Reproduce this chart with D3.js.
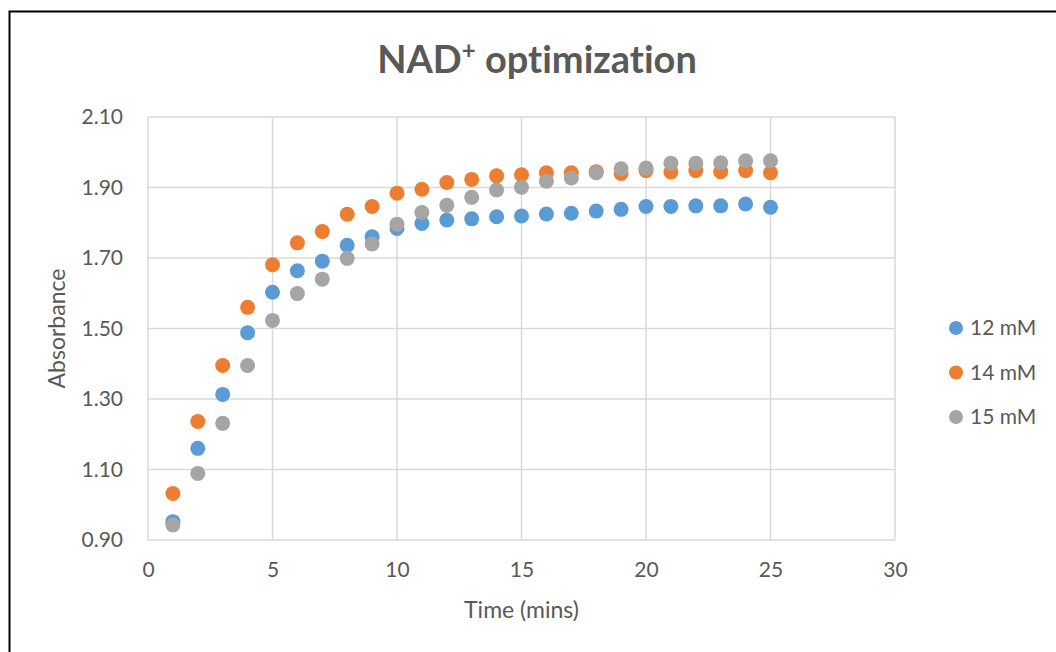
<html>
	<head>
		<script type="text/javascript" src="https://cdn.jsdelivr.net/npm/d3@7/dist/d3.min.js"></script>
		<style>
			body { margin: 0; background: #fff; }
			text { font-family: Lato, "Open Sans", sans-serif; fill: #595959; font-variant-ligatures: none; }
		</style>
	</head>
	<body>
		<script type="text/javascript">

			// data
			var times = [1,2,3,4,5,6,7,8,9,10,11,12,13,14,15,16,17,18,19,20,21,22,23,24,25];
			var mM12 = [0.952,1.160,1.313,1.488,1.603,1.664,1.691,1.736,1.760,1.784,1.798,1.808,1.811,1.817,1.819,1.825,1.827,1.833,1.838,1.846,1.846,1.848,1.848,1.853,1.844];
			var mM14 = [1.032,1.236,1.395,1.560,1.681,1.743,1.775,1.824,1.846,1.884,1.895,1.914,1.923,1.933,1.936,1.942,1.942,1.945,1.940,1.948,1.944,1.948,1.945,1.948,1.942];
			var mM15 = [0.943,1.089,1.231,1.395,1.523,1.599,1.640,1.699,1.740,1.796,1.829,1.850,1.872,1.893,1.901,1.918,1.927,1.942,1.953,1.955,1.969,1.969,1.970,1.976,1.976];
			var seriesNames = ['12 mM','14 mM','15 mM'];
			var seriesColors = ['#5b9bd5','#ed7d31','#a5a5a5'];
			var xTicks = [0,5,10,15,20,25,30];
			var yTicks = [0.9,1.1,1.3,1.5,1.7,1.9,2.1];

			var width = 1056,
				height = 652,
				plotLeft = 148,
				plotRight = 895,
				plotTop = 117,
				plotBottom = 540;

			var x = d3.scaleLinear().domain([0,30]).range([plotLeft,plotRight]),
				y = d3.scaleLinear().domain([0.9,2.1]).range([plotBottom,plotTop]);

			var svg = d3.select('body').append('svg')
				.attr('width',width)
				.attr('height',height);

			// outer frame
			svg.append('rect')
				.attr('x',9.5).attr('y',11.5)
				.attr('width',1100).attr('height',700)
				.style('fill','none').style('stroke','#000').style('stroke-width',2);

			// gridlines
			svg.append('g').selectAll('line').data(yTicks).enter().append('line')
				.attr('x1',plotLeft).attr('x2',plotRight)
				.attr('y1',function(d){ return y(d); })
				.attr('y2',function(d){ return y(d); })
				.style('stroke','#d9d9d9').style('stroke-width',1.5);

			svg.append('g').selectAll('line').data(xTicks).enter().append('line')
				.attr('y1',plotTop).attr('y2',plotBottom)
				.attr('x1',function(d){ return x(d); })
				.attr('x2',function(d){ return x(d); })
				.style('stroke','#d9d9d9').style('stroke-width',1.5);

			// axes, labels only
			var xAxis = svg.append('g')
				.attr('transform','translate(0,' + plotBottom + ')')
				.call(d3.axisBottom(x).tickValues(xTicks).tickSize(0).tickPadding(22));
			var yAxis = svg.append('g')
				.attr('transform','translate(' + plotLeft + ',0)')
				.call(d3.axisLeft(y).tickValues(yTicks).tickSize(0).tickPadding(25).tickFormat(d3.format('.2f')));

			[xAxis, yAxis].forEach(function(a){
				a.select('.domain').remove();
				a.selectAll('text')
					.style('font-family','Lato, "Open Sans", sans-serif')
					.style('font-size','21px')
					.style('fill','#595959');
			});

			// axis titles
			svg.append('text')
				.attr('x',(plotLeft+plotRight)/2).attr('y',618)
				.attr('text-anchor','middle')
				.style('font-size','23px')
				.text('Time (mins)');

			svg.append('text')
				.attr('transform','translate(65,' + ((plotTop+plotBottom)/2) + ') rotate(-90)')
				.attr('text-anchor','middle')
				.style('font-size','23px')
				.text('Absorbance');

			// title
			var title = svg.append('text')
				.attr('x',537).attr('y',73)
				.attr('text-anchor','middle')
				.style('font-size','38px')
				.style('font-weight','bold');
			title.append('tspan').text('NAD');
			title.append('tspan').attr('dy',-14).style('font-size','24px').text('+');
			title.append('tspan').attr('dy',14).text(' optimization');

			// points
			var series = [mM12, mM14, mM15];
			series.forEach(function(vals,s){
				svg.append('g').selectAll('circle').data(vals).enter().append('circle')
					.attr('cx',function(d,i){ return x(times[i]); })
					.attr('cy',function(d){ return y(d); })
					.attr('r',7.5)
					.style('fill',seriesColors[s]);
			});

			// legend
			var legend = svg.append('g').selectAll('g').data(seriesNames).enter().append('g')
				.attr('transform',function(d,i){ return 'translate(956,' + (328 + i*44.5) + ')'; });
			legend.append('circle')
				.attr('r',7)
				.style('fill',function(d,i){ return seriesColors[i]; });
			legend.append('text')
				.attr('x',14).attr('dy','0.35em')
				.style('font-size','21px')
				.text(function(d){ return d; });

		</script>
	</body>
</html>
